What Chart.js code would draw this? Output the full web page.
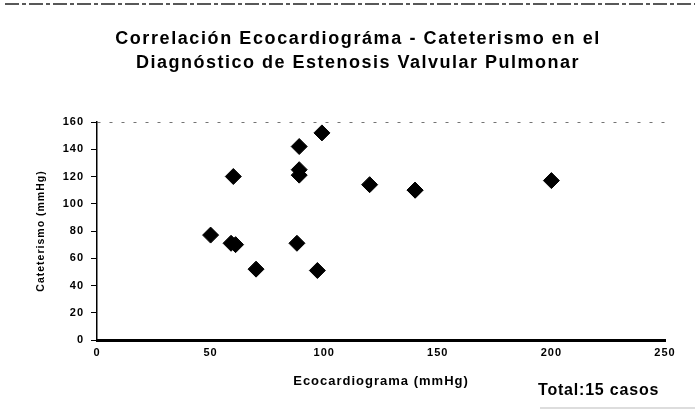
<!DOCTYPE html>
<html>
<head>
<meta charset="utf-8">
<script src="https://cdn.jsdelivr.net/npm/chart.js@4.4.0/dist/chart.umd.min.js"></script>
<style>
  html, body { margin: 0; padding: 0; background: #fff; }
  #wrap { width: 695px; height: 416px; }
</style>
</head>
<body>
<div id="wrap"><canvas id="grafico"></canvas></div>
<script>
var tituloLineas = ['Correlación Ecocardiográma - Cateterismo en el', 'Diagnóstico de Estenosis Valvular Pulmonar'];
var ecocardiograma = [50, 60, 59, 61, 70, 88, 89, 89, 89, 97, 99, 120, 140, 140, 200];
var cateterismo   = [77, 120, 71, 70, 52, 71, 142, 121, 125, 51, 152, 114, 110, 110, 117];
var ticksX = [0, 50, 100, 150, 200, 250];
var ticksY = [0, 20, 40, 60, 80, 100, 120, 140, 160];
var totalTexto = 'Total:15 casos';

var fuente = "'Liberation Sans', Arial, sans-serif";

var puntos = [];
for (var i = 0; i < ecocardiograma.length; i++) {
	puntos.push({x: ecocardiograma[i], y: cateterismo[i]});
}

// el escaneo ensancha las letras: un poco de espaciado en todo el texto
var espaciado = {
	id: 'espaciado',
	beforeDraw: function(chart) {
		chart.ctx.letterSpacing = '1px';
	}
};

var textosExtra = {
	id: 'textosExtra',
	afterDraw: function(chart) {
		var ctx = chart.ctx;
		ctx.save();
		ctx.fillStyle = '#000';
		ctx.textAlign = 'center';
		ctx.textBaseline = 'alphabetic';
		ctx.font = 'bold 18px ' + fuente;
		ctx.letterSpacing = '1.6px';
		ctx.fillText(tituloLineas[0], 358, 44);
		ctx.letterSpacing = '1.5px';
		ctx.fillText(tituloLineas[1], 358, 68);
		ctx.textAlign = 'left';
		ctx.font = 'bold 16px ' + fuente;
		ctx.letterSpacing = '0.8px';
		ctx.fillText(totalTexto, 538, 395);
		// bordes del escaneo
		ctx.strokeStyle = '#222';
		ctx.lineWidth = 1.5;
		ctx.setLineDash([14, 3, 4, 3]);
		ctx.beginPath();
		ctx.moveTo(5, 4);
		ctx.lineTo(695, 4);
		ctx.stroke();
		ctx.strokeStyle = '#bbb';
		ctx.lineWidth = 1;
		ctx.setLineDash([]);
		ctx.beginPath();
		ctx.moveTo(540, 408);
		ctx.lineTo(695, 408);
		ctx.stroke();
		ctx.restore();
	}
};

var ctx = document.getElementById('grafico').getContext('2d');
var chart = new Chart(ctx, {
	type: 'scatter',
	data: {
		datasets: [{
			data: puntos,
			pointStyle: 'rectRot',
			pointRadius: 8,
			pointBackgroundColor: '#000',
			pointBorderColor: '#000',
			pointBorderWidth: 1
		}]
	},
	options: {
		responsive: true,
		maintainAspectRatio: false,
		animation: false,
		layout: {
			padding: {top: 122, right: 30, bottom: 0, left: 0}
		},
		plugins: {
			legend: {display: false},
			tooltip: {enabled: false}
		},
		scales: {
			x: {
				type: 'linear',
				min: 0,
				max: 250,
				afterBuildTicks: function(scale) {
					scale.ticks = ticksX.map(function(v) { return {value: v}; });
				},
				afterFit: function(scale) { scale.height = 76; },
				grid: {display: false, drawTicks: false},
				border: {display: true, color: '#000', width: 3},
				ticks: {
					color: '#000',
					padding: 6,
					maxRotation: 0,
					font: {family: fuente, size: 11, weight: 'bold'}
				},
				title: {
					display: true,
					text: 'Ecocardiograma (mmHg)',
					color: '#000',
					padding: {top: 0, bottom: 27},
					font: {family: fuente, size: 13, weight: 'bold'}
				}
			},
			y: {
				type: 'linear',
				min: 0,
				max: 160,
				afterBuildTicks: function(scale) {
					scale.ticks = ticksY.map(function(v) { return {value: v}; });
				},
				afterFit: function(scale) { scale.width = 97; },
				grid: {
					drawTicks: true,
					tickLength: 6,
					tickColor: '#000',
					tickWidth: 1,
					color: function(c) {
						return (c.tick && c.tick.value === 160) ? 'rgba(0,0,0,0.55)' : 'rgba(0,0,0,0)';
					}
				},
				border: {display: true, color: '#000', width: 1.5, dash: [3, 9]},
				ticks: {
					color: '#000',
					padding: 7,
					font: {family: fuente, size: 11, weight: 'bold'}
				},
				title: {
					display: true,
					text: 'Cateterismo (mmHg)',
					color: '#000',
					padding: {top: 35, bottom: 0},
					font: {family: fuente, size: 10.5, weight: 'bold'}
				}
			}
		}
	},
	plugins: [espaciado, textosExtra]
});
</script>
</body>
</html>
